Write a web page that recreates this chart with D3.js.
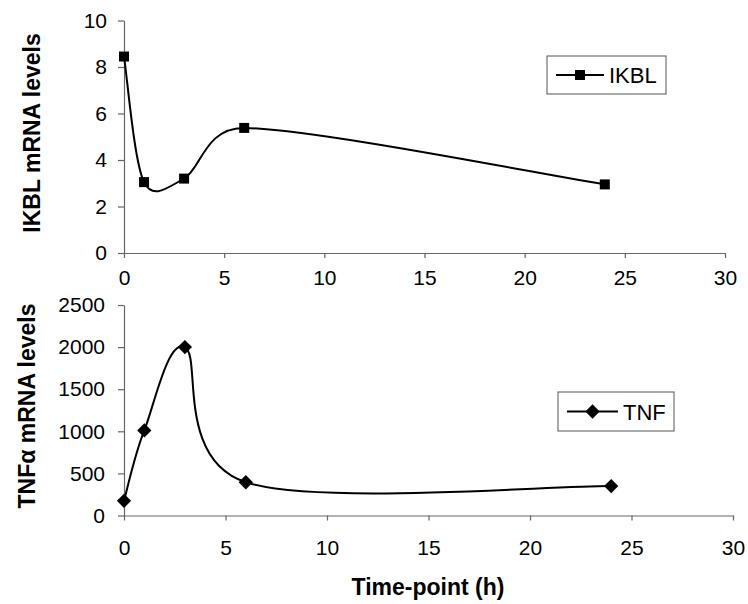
<!DOCTYPE html>
<html>
<head>
<meta charset="utf-8">
<script src="https://cdn.jsdelivr.net/npm/d3@7"></script>
<style>
  body { margin: 0; background: #fff; }
  svg text { font-family: "Liberation Sans", Arial, sans-serif; fill: #000; }
</style>
</head>
<body>
<svg id="chart" width="748" height="604"></svg>
<script>
// time points (h)
const timePoints = [0, 1, 3, 6, 24];
const ikblValues = [8.45, 3.05, 3.2, 5.38, 2.95];
const tnfValues = [175, 1010, 2000, 395, 350];
const xTicks = [0, 5, 10, 15, 20, 25, 30];
const ikblTicks = [0, 2, 4, 6, 8, 10];
const tnfTicks = [0, 500, 1000, 1500, 2000, 2500];

const svg = d3.select("#chart");

// spreadsheet-style smoothing: catmull-rom tangents, arms capped to half the chord
function smoothPath(p) {
  const n = p.length;
  const tan = p.map((_, i) => {
    const a = p[Math.max(i - 1, 0)], b = p[Math.min(i + 1, n - 1)];
    return [(b[0] - a[0]) / 6, (b[1] - a[1]) / 6];
  });
  const cap = (t, max) => {
    const len = Math.hypot(t[0], t[1]);
    return len > max ? [t[0] * max / len, t[1] * max / len] : t;
  };
  const path = d3.path();
  path.moveTo(p[0][0], p[0][1]);
  for (let i = 0; i < n - 1; i++) {
    const chord = Math.hypot(p[i + 1][0] - p[i][0], p[i + 1][1] - p[i][1]);
    const t1 = cap(tan[i], chord / 2), t2 = cap(tan[i + 1], chord / 2);
    path.bezierCurveTo(p[i][0] + t1[0], p[i][1] + t1[1],
      p[i + 1][0] - t2[0], p[i + 1][1] - t2[1], p[i + 1][0], p[i + 1][1]);
  }
  return path.toString();
}

function panel(opts) {
  const x = d3.scaleLinear().domain([0, 30]).range([opts.x0, opts.x1]);
  const y = d3.scaleLinear().domain(opts.yDomain).range([opts.y0, opts.y1]);
  const g = svg.append("g");

  // axes
  const xa = g.append("g").attr("transform", `translate(0,${opts.y0})`)
    .call(d3.axisBottom(x).tickValues(xTicks).tickFormat(d3.format("d"))
      .tickSize(5).tickPadding(opts.xPad).tickSizeOuter(0));
  const ya = g.append("g").attr("transform", `translate(${opts.x0},0)`)
    .call(d3.axisLeft(y).tickValues(opts.yTicks).tickFormat(d3.format("d"))
      .tickSize(6).tickPadding(opts.yPad).tickSizeOuter(0));
  for (const a of [xa, ya]) {
    a.select(".domain").attr("stroke", "#666").attr("stroke-width", 1.2);
    a.selectAll(".tick line").attr("stroke", "#666").attr("stroke-width", 1.2);
    a.selectAll(".tick text").attr("font-size", 21).attr("fill", "#000")
      .style("font-family", '"Liberation Sans", Arial, sans-serif');
  }

  // y title
  g.append("text")
    .attr("transform", `translate(${opts.titleX},${opts.titleY}) rotate(-90)`)
    .attr("text-anchor", "middle").attr("font-size", 23).attr("font-weight", "bold")
    .html(opts.title);

  // smoothed line
  const pts = timePoints.map((t, i) => [t, opts.values[i]]);
  const px = pts.map(d => [x(d[0]), y(d[1])]);
  g.append("path").attr("d", smoothPath(px))
    .attr("fill", "none").attr("stroke", "#000").attr("stroke-width", 2);

  // markers
  const sym = d3.symbol().type(opts.marker).size(opts.markerSize);
  g.selectAll("path.mk").data(pts).join("path").attr("class", "mk")
    .attr("d", sym).attr("transform", d => `translate(${x(d[0])},${y(d[1])})`)
    .attr("fill", "#000");

  // legend
  const L = opts.legend;
  g.append("rect").attr("x", L.x).attr("y", L.y).attr("width", L.w).attr("height", L.h)
    .attr("fill", "#fff").attr("stroke", "#555").attr("stroke-width", 1);
  g.append("line").attr("x1", L.x + 9).attr("x2", L.x + L.lineW)
    .attr("y1", L.y + L.h / 2).attr("y2", L.y + L.h / 2)
    .attr("stroke", "#000").attr("stroke-width", 2);
  g.append("path").attr("d", sym)
    .attr("transform", `translate(${L.x + 9 + (L.lineW - 9) / 2},${L.y + L.h / 2})`).attr("fill", "#000");
  g.append("text").attr("x", L.x + L.lineW + 5).attr("y", L.y + L.h / 2 + 8)
    .attr("font-size", 22).text(L.label);
}

panel({
  x0: 124, x1: 725, y0: 253, y1: 20.5,
  yDomain: [0, 10], yTicks: ikblTicks, values: ikblValues,
  xPad: 12, yPad: 11,
  title: "IKBL mRNA levels", titleX: 40, titleY: 133,
  marker: d3.symbolSquare, markerSize: 100,
  legend: { x: 547, y: 56, w: 119, h: 38, lineW: 57, label: "IKBL" }
});

panel({
  x0: 124, x1: 733, y0: 515.5, y1: 305,
  yDomain: [0, 2500], yTicks: tnfTicks, values: tnfValues,
  xPad: 20, yPad: 13,
  title: "TNF&#945; mRNA levels", titleX: 35, titleY: 406,
  marker: d3.symbolDiamond2, markerSize: 130,
  legend: { x: 558, y: 392, w: 116, h: 39, lineW: 60, label: "TNF" }
});

svg.append("text").attr("x", 428).attr("y", 595).attr("text-anchor", "middle")
  .attr("font-size", 23).attr("font-weight", "bold").text("Time-point (h)");
</script>
</body>
</html>
